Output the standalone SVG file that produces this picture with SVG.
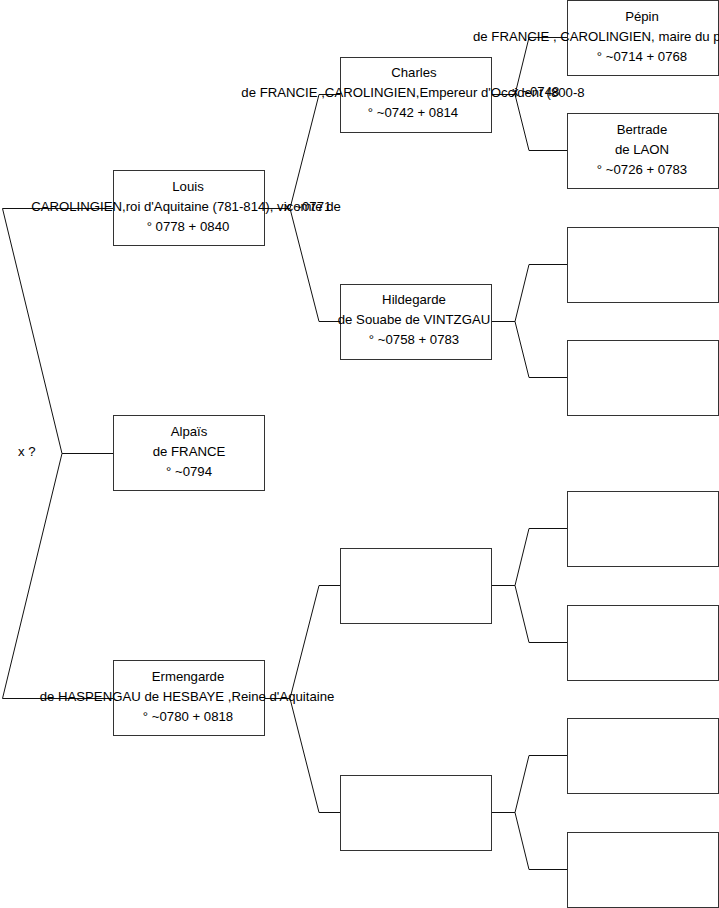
<svg xmlns="http://www.w3.org/2000/svg" width="719" height="908" viewBox="0 0 719 908">
<style>
.box{fill:#fff;stroke:#333;stroke-width:1}
.ln{fill:none;stroke:#111;stroke-width:1}
text{font-family:"Liberation Sans",Arial,sans-serif;font-size:13.2px;fill:#000}
.c{text-anchor:middle}
</style>
<rect width="719" height="908" fill="#fff"/>
<g id="connectors">
<polyline class="ln" points="114,208.5 2.5,208.5 62,453.5 2.5,698.5 114,698.5"/>
<line class="ln" x1="62" y1="453.5" x2="114" y2="453.5"/>
<polyline class="ln" points="340,94.5 319,94.5 290,208.5 319,321.5 340,321.5"/>
<line class="ln" x1="265" y1="208.5" x2="290" y2="208.5"/>
<polyline class="ln" points="340,585.5 319,585.5 290,698.5 319,812.5 340,812.5"/>
<line class="ln" x1="265" y1="698.5" x2="290" y2="698.5"/>
<polyline class="ln" points="567,37.5 529,37.5 515,94.5 529,150.5 567,150.5"/>
<line class="ln" x1="491" y1="94.5" x2="515" y2="94.5"/>
<polyline class="ln" points="567,264.5 529,264.5 515,321.5 529,377.5 567,377.5"/>
<line class="ln" x1="491" y1="321.5" x2="515" y2="321.5"/>
<polyline class="ln" points="567,528.5 529,528.5 515,585.5 529,642.5 567,642.5"/>
<line class="ln" x1="491" y1="585.5" x2="515" y2="585.5"/>
<polyline class="ln" points="567,755.5 529,755.5 515,812.5 529,869.5 567,869.5"/>
<line class="ln" x1="491" y1="812.5" x2="515" y2="812.5"/>
</g>
<g id="n-louis">
<rect class="box" x="113.5" y="170.5" width="151" height="75"/>
<text class="c" x="188" y="190.5">Louis</text>
<text class="c" x="186" y="211">CAROLINGIEN,roi d'Aquitaine (781-814), vicomte de</text>
<text class="c" x="188" y="231">° 0778 + 0840</text>
</g>
<g id="n-alpais">
<rect class="box" x="113.5" y="415.5" width="151" height="75"/>
<text class="c" x="189" y="435.5">Alpaïs</text>
<text class="c" x="189" y="456">de FRANCE</text>
<text class="c" x="189" y="476">° ~0794</text>
</g>
<g id="n-ermengarde">
<rect class="box" x="113.5" y="660.5" width="151" height="75"/>
<text class="c" x="188" y="680.5">Ermengarde</text>
<text class="c" x="187" y="701">de HASPENGAU de HESBAYE ,Reine d'Aquitaine</text>
<text class="c" x="188" y="721">° ~0780 + 0818</text>
</g>
<g id="n-charles">
<rect class="box" x="340.5" y="57.5" width="151" height="75"/>
<text class="c" x="414" y="77">Charles</text>
<text class="c" x="413" y="97">de FRANCIE ,CAROLINGIEN,Empereur d'Occident (800-8</text>
<text class="c" x="413" y="117">° ~0742 + 0814</text>
</g>
<g id="n-hildegarde">
<rect class="box" x="340.5" y="284.5" width="151" height="75"/>
<text class="c" x="414" y="304">Hildegarde</text>
<text class="c" x="414" y="324">de Souabe de VINTZGAU</text>
<text class="c" x="414" y="344">° ~0758 + 0783</text>
</g>
<g id="n-c2-3"><rect class="box" x="340.5" y="548.5" width="151" height="75"/></g>
<g id="n-c2-4"><rect class="box" x="340.5" y="775.5" width="151" height="75"/></g>
<g id="n-pepin">
<rect class="box" x="567.5" y="0.5" width="151" height="75"/>
<text class="c" x="642" y="20.5">Pépin</text>
<text x="473" y="40.5">de FRANCIE , CAROLINGIEN, maire du p</text>
<text class="c" x="642" y="60.5">° ~0714 + 0768</text>
</g>
<g id="n-bertrade">
<rect class="box" x="567.5" y="113.5" width="151" height="75"/>
<text class="c" x="642" y="133.5">Bertrade</text>
<text class="c" x="642" y="153.5">de LAON</text>
<text class="c" x="642" y="173.5">° ~0726 + 0783</text>
</g>
<g id="n-c3-3"><rect class="box" x="567.5" y="227.5" width="151" height="75"/></g>
<g id="n-c3-4"><rect class="box" x="567.5" y="340.5" width="151" height="75"/></g>
<g id="n-c3-5"><rect class="box" x="567.5" y="491.5" width="151" height="75"/></g>
<g id="n-c3-6"><rect class="box" x="567.5" y="605.5" width="151" height="75"/></g>
<g id="n-c3-7"><rect class="box" x="567.5" y="718.5" width="151" height="75"/></g>
<g id="n-c3-8"><rect class="box" x="567.5" y="832.5" width="151" height="75"/></g>
<g id="labels">
<text x="18" y="455.5">x ?</text>
<text x="284" y="211">x ~0771</text>
<text x="512" y="96">x ~0748</text>
</g>
</svg>
